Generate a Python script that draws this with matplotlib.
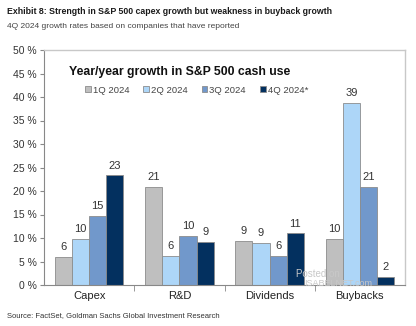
# Exhibit 8: S&P 500 cash use growth by quarter
import numpy as np
import matplotlib.pyplot as plt

categories = ['Capex', 'R&D', 'Dividends', 'Buybacks']
series = ['1Q 2024', '2Q 2024', '3Q 2024', '4Q 2024*']
q1 = [6.0, 20.9, 9.4, 9.8]
q2 = [9.8, 6.2, 8.9, 38.7]
q3 = [14.7, 10.4, 6.2, 20.9]
q4 = [23.3, 9.2, 11.0, 1.8]
colors = ['#BFBFBF', '#ADD6F8', '#7198CB', '#03305F']
yticks = np.arange(0, 51, 5)

plt.rcParams['font.family'] = ['Liberation Sans', 'DejaVu Sans']
narrow = ['Liberation Sans Narrow', 'Liberation Sans', 'DejaVu Sans']

fig = plt.figure(figsize=(4.16, 3.26), dpi=100)
ax = fig.add_axes([44 / 416, 1 - 285 / 326, 361 / 416, 235 / 326])

x = np.arange(len(categories))
w = 0.19
for i, (vals, name) in enumerate(zip([q1, q2, q3, q4], series)):
    pos = x + (i - 1.5) * w
    ax.bar(pos, vals, w, color=colors[i], edgecolor='#8C8C8C',
           linewidth=0.6, label=name, zorder=2)
    for xp, v in zip(pos, vals):
        ax.text(xp, v + 1.0, f'{round(v):d}', ha='center', va='bottom',
                fontsize=8, color='#333333')

ax.set_xlim(-0.5, 3.5)
ax.set_ylim(0, 50)
ax.set_yticks(yticks)
ax.set_yticklabels([f'{t} %' for t in yticks], fontsize=7.5, color='#333333')
ax.set_xticks(x)
ax.set_xticklabels(categories, fontsize=8, color='#222222')
ax.tick_params(axis='x', length=0, pad=4)
ax.set_xticks([0.5, 1.5, 2.5], minor=True)
ax.tick_params(axis='x', which='minor', length=4, color='#888888')
ax.tick_params(axis='y', length=3, color='#888888', pad=2)
for side in ['left', 'bottom']:
    ax.spines[side].set_color('#888888')
    ax.spines[side].set_linewidth(0.8)
for side in ['top', 'right']:
    ax.spines[side].set_color('#C8C8C8')
    ax.spines[side].set_linewidth(1.0)

ax.text(0.068, 0.895, 'Year/year growth in S&P 500 cash use', transform=ax.transAxes,
        fontsize=8.8, fontweight='bold', color='#111111')
ax.legend(loc='upper left', bbox_to_anchor=(0.09, 0.885), ncol=4, frameon=False,
          fontsize=6.8, handlelength=0.6, handleheight=0.6, handletextpad=0.2,
          columnspacing=1.5, labelcolor='#444444')

fig.text(7 / 416, 1 - 12 / 326, 'Exhibit 8: Strength in S&P 500 capex growth but weakness in buyback growth',
         fontsize=6.3, fontweight='bold', color='#1a1a1a', va='center', family=narrow)
fig.text(7 / 416, 1 - 26 / 326, '4Q 2024 growth rates based on companies that have reported',
         fontsize=6, color='#444444', va='center', family=narrow)
fig.text(7 / 416, 1 - 316 / 326, 'Source: FactSet, Goldman Sachs Global Investment Research',
         fontsize=5.5, color='#333333', va='center', family=narrow)

# watermark
fig.text(296 / 416, 1 - 274 / 326, 'Posted on', fontsize=7, color='#C8C8C8', va='center')
fig.text(304 / 416, 1 - 283 / 326, 'ISABELNET.com', fontsize=6.5, color='#C8C8C8', va='center')

fig.savefig('out.png', dpi=100)
